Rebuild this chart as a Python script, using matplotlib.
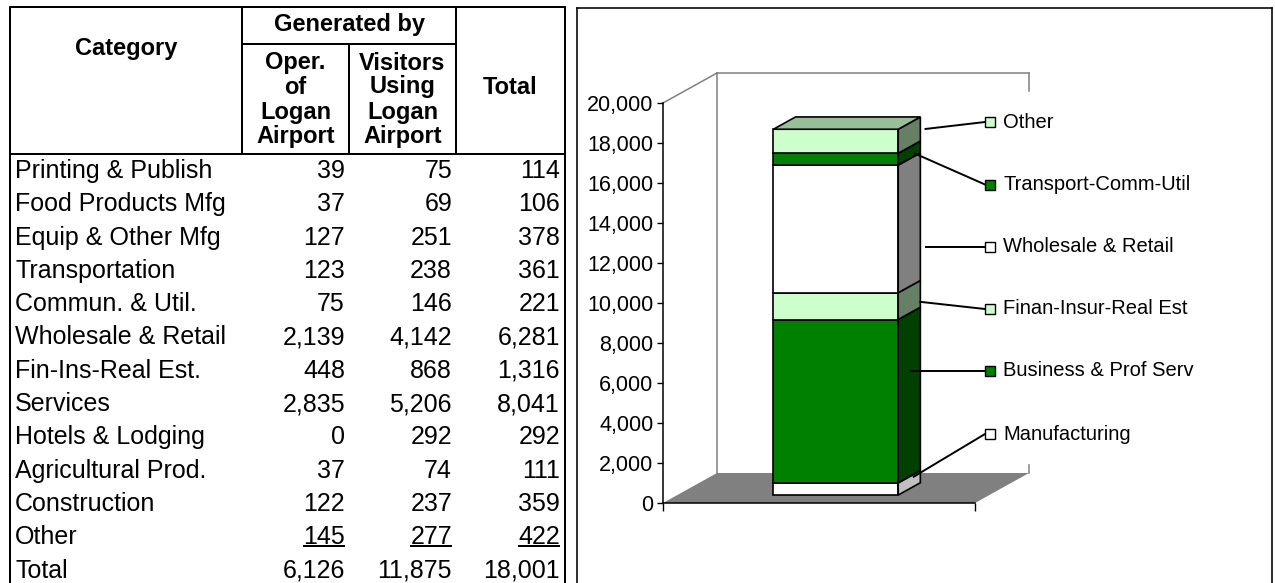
import matplotlib
matplotlib.use("Agg")
import matplotlib.pyplot as plt
import numpy as np
from matplotlib.patches import Polygon, Rectangle
from matplotlib.transforms import IdentityTransform, Affine2D
from matplotlib.ticker import FuncFormatter, FixedLocator

plt.rcParams['font.family'] = ['Liberation Sans', 'DejaVu Sans']

# ---------------- data ----------------
categories = ["Printing & Publish", "Food Products Mfg", "Equip & Other Mfg",
              "Transportation", "Commun. & Util.", "Wholesale & Retail",
              "Fin-Ins-Real Est.", "Services", "Hotels & Lodging",
              "Agricultural Prod.", "Construction", "Other"]
oper = [39, 37, 127, 123, 75, 2139, 448, 2835, 0, 37, 122, 145]
visitors = [75, 69, 251, 238, 146, 4142, 868, 5206, 292, 74, 237, 277]
totals = [114, 106, 378, 361, 221, 6281, 1316, 8041, 292, 111, 359, 422]
total_row = [6126, 11875, 18001]

header_oper = ["Oper.", "of", "Logan", "Airport"]
header_vis = ["Visitors", "Using", "Logan", "Airport"]

# stacked bar, bottom -> top
segment_labels = ["Manufacturing", "Business & Prof Serv", "Finan-Insur-Real Est",
                  "Wholesale & Retail", "Transport-Comm-Util", "Other"]
segment_values = [598, 8041, 1316, 6281, 582, 1184]
y_ticks = [0, 2000, 4000, 6000, 8000, 10000, 12000, 14000, 16000, 18000, 20000]

# ---------------- styles ----------------
front_colors = ['white', '#008000', '#ccffcc', 'white', '#008000', '#ccffcc']
side_colors = ['#c0c0c0', '#004000', '#668066', '#808080', '#004000', '#668066']
top_color = '#99bf99'

W, H = 1275, 583
fig = plt.figure(figsize=(W / 100, H / 100), dpi=100)

bg = fig.add_axes([0, 0, 1, 1])
bg.set_xlim(0, W)
bg.set_ylim(H, 0)
bg.axis('off')

PX = 0.72  # points per pixel


def seg(x0, y0, x1, y1, lw=2.0, color='black'):
    bg.plot([x0, x1], [y0, y1], color=color, lw=lw * PX,
            solid_capstyle='projecting', clip_on=False)


# ---------------- table ----------------
L, R, T = 10, 565, 7
c1, c2, c3 = 242, 349, 456
gen_y, hdr_y = 44, 154

seg(L, T, L, H + 5)
seg(R, T, R, H + 5)
seg(L, T, R, T)
seg(c1, T, c1, hdr_y)
seg(c3, T, c3, hdr_y)
seg(c2, gen_y, c2, hdr_y)
seg(c1, gen_y, c3, gen_y)
seg(L, hdr_y, R, hdr_y)

hfs = 17
bg.text((L + c1) / 2, 48, "Category", ha='center', va='center',
        fontsize=hfs, fontweight='bold')
bg.text((c1 + c3) / 2, 24, "Generated by", ha='center', va='center',
        fontsize=hfs, fontweight='bold')
hy = [63, 87, 112, 137]
for i in range(4):
    bg.text((c1 + c2) / 2, hy[i], header_oper[i], ha='center', va='center',
            fontsize=hfs, fontweight='bold')
    bg.text((c2 + c3) / 2, hy[i], header_vis[i], ha='center', va='center',
            fontsize=hfs, fontweight='bold')
bg.text((c3 + R) / 2, 87, "Total", ha='center', va='center',
        fontsize=hfs, fontweight='bold')

dfs = 18
row0, dy = 171, 33.3
xr = [345, 452, 560]
renderer = fig.canvas.get_renderer()
inv = bg.transData.inverted()
for i, cat in enumerate(categories):
    y = row0 + i * dy
    bg.text(15, y, cat, ha='left', va='center', fontsize=dfs)
    for j, v in enumerate([oper[i], visitors[i], totals[i]]):
        t = bg.text(xr[j], y, f"{v:,}", ha='right', va='center', fontsize=dfs)
        if i == len(categories) - 1:
            ext = t.get_window_extent(renderer)
            xa = inv.transform((ext.x0, 0))[0]
            xb = inv.transform((ext.x1, 0))[0]
            bg.plot([xa, xb], [y + 9, y + 9], color='black', lw=2 * PX,
                    solid_capstyle='butt')
yt = row0 + len(categories) * dy
bg.text(15, yt, "Total", ha='left', va='center', fontsize=dfs)
for j, v in enumerate(total_row):
    bg.text(xr[j], yt, f"{v:,}", ha='right', va='center', fontsize=dfs)

# chart panel border
seg(577, 8, 1272, 8, lw=1.6)
seg(577, 8, 577, H + 5, lw=1.6)
seg(1272, 8, 1272, H + 5, lw=1.6)

# ---------------- 3D stacked column chart ----------------
cax = fig.add_axes([663 / W, 80 / H, 312 / W, 400 / H])
cax.set_xlim(0, 1)
cax.set_ylim(0, 20000)
cax.patch.set_visible(False)
for s in ['top', 'right']:
    cax.spines[s].set_visible(False)
for s in ['left', 'bottom']:
    cax.spines[s].set_color('black')
    cax.spines[s].set_linewidth(1.1)
cax.yaxis.set_major_locator(FixedLocator(y_ticks))
cax.yaxis.set_major_formatter(FuncFormatter(lambda v, p: f"{int(v):,}"))
cax.set_xticks([0, 1])
cax.tick_params(axis='y', direction='out', length=4, width=1, pad=3,
                labelsize=15.5)
cax.tick_params(axis='x', direction='out', length=6, width=1,
                labelbottom=False)

DX, DY = 54, 30  # full depth offset in pixels
ID = IdentityTransform()


def P(x, v, d):
    px, py = cax.transData.transform((x, v))
    return (px + d * DX, py + d * DY)


# floor
floor = Polygon([P(0, 0, 0), P(1, 0, 0), P(1, 0, 1), P(0, 0, 1)], closed=True,
                facecolor='#808080', edgecolor='none', transform=ID,
                clip_on=False, zorder=1)
cax.add_patch(floor)
gray_lines = [(P(0, 0, 1), P(0, 20000, 1)),
              (P(0, 20000, 0), P(0, 20000, 1)),
              (P(0, 20000, 1), P(1, 20000, 1)),
              (P(1, 20000, 1), P(1, 19100, 1)),
              (P(1, 0, 1), P(1, 400, 1))]
for a, b in gray_lines:
    cax.plot([a[0], b[0]], [a[1], b[1]], color='#808080', lw=1.1,
             transform=ID, clip_on=False, zorder=1.2)

# bar geometry
d_front, d_back = 0.265, 0.675
bx, bw = 0.508, 0.40
x0, x1 = bx - bw / 2, bx + bw / 2
k = 1.016  # slight perspective enlargement of the column
y0disp = cax.transData.transform((0, 0))[1]


def bar_tr(d):
    return cax.transData + Affine2D().translate(0, -y0disp).scale(1, k) \
        .translate(d * DX, y0disp + d * DY)


trf, trb = bar_tr(d_front), bar_tr(d_back)
bottoms = np.concatenate([[0], np.cumsum(segment_values)[:-1]])
tops = bottoms + np.array(segment_values)

cax.bar([bx] * len(segment_values), segment_values, width=bw, bottom=bottoms,
        color=front_colors, edgecolor='black', linewidth=1.2,
        transform=trf, clip_on=False, zorder=3)
cax.set_xlim(0, 1)
cax.set_ylim(0, 20000)

for i in range(len(segment_values)):
    b, t = bottoms[i], tops[i]
    pts = [trf.transform((x1, b)), trf.transform((x1, t)),
           trb.transform((x1, t)), trb.transform((x1, b))]
    cax.add_patch(Polygon(pts, closed=True, facecolor=side_colors[i],
                          edgecolor='black', linewidth=1.2, transform=ID,
                          clip_on=False, zorder=3))
T_all = tops[-1]
top_pts = [trf.transform((x0, T_all)), trf.transform((x1, T_all)),
           trb.transform((x1, T_all)), trb.transform((x0, T_all))]
cax.add_patch(Polygon(top_pts, closed=True, facecolor=top_color,
                      edgecolor='black', linewidth=1.2, transform=ID,
                      clip_on=False, zorder=3))

# labels with leader lines (listed top -> bottom on the right)
label_y_px = [122, 184.5, 247, 309, 371, 434]  # top-down pixel rows
lead_f = [0.7, 0.6, 1.0, 1.1, 0.75, 1.1]  # where leaders leave the side face
marker_x, msz = 985, 10
n = len(segment_values)
for rank in range(n):
    i = n - 1 - rank  # segment index (top segment first)
    ly = H - label_y_px[rank]  # display y
    d = d_front + lead_f[i] * (d_back - d_front)
    trd = bar_tr(d)
    sx, sb = trd.transform((x1, bottoms[i]))
    _, st = trd.transform((x1, tops[i]))
    m = 0.2 * (st - sb)
    sy = float(np.clip(ly, sb + m, st - m))
    if rank == 0:
        sy = min(sy, st - 0.55 * (st - sb))
    sxx = sx + (3 if lead_f[i] > 1 else 0)
    cax.plot([sxx, marker_x], [sy, ly], color='black', lw=1.4, transform=ID,
             clip_on=False, zorder=4)
    cax.add_patch(Rectangle((marker_x, ly - msz / 2), msz, msz,
                            facecolor=front_colors[i], edgecolor='black',
                            linewidth=1.0, transform=ID, clip_on=False,
                            zorder=5))
    fig.text((marker_x + msz + 8) / W, ly / H, segment_labels[i],
             ha='left', va='center', fontsize=14.5)

fig.savefig("out.png", dpi=100)
